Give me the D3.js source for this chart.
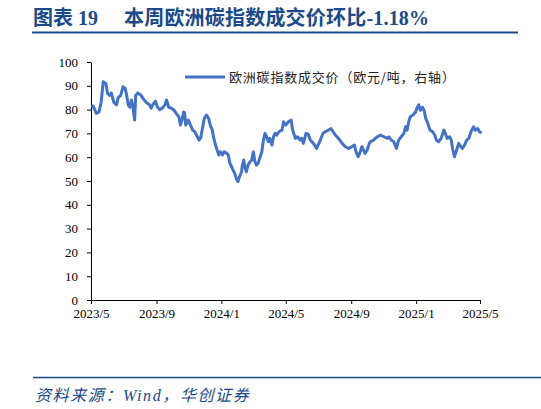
<!DOCTYPE html>
<html>
<head>
<meta charset="utf-8">
<script src="https://cdn.jsdelivr.net/npm/d3@7/dist/d3.min.js"></script>
<style>
  body { margin: 0; background: #fff; }
  svg { display: block; }
  .axis text { font-family: "Liberation Serif", "Times New Roman", serif; font-size: 13px; fill: #000; }
  .axis path, .axis line { stroke: #000; }
</style>
</head>
<body>
<div id="chart"></div>
<script>
/************************** DATA ************************/

var titleLabel = "图表 19";
var title = "本周欧洲碳指数成交价环比-1.18%";
var source = "资料来源：Wind，华创证券";
var seriesName = "欧洲碳指数成交价（欧元/吨，右轴）";

var yTicks = [0, 10, 20, 30, 40, 50, 60, 70, 80, 90, 100];
var xTicks = ["2023-05-01", "2023-09-01", "2024-01-01", "2024-05-01", "2024-09-01", "2025-01-01", "2025-05-01"];

var dates = [
  "2023-05-02","2023-05-05","2023-05-11","2023-05-16","2023-05-20","2023-05-24","2023-05-29","2023-06-01",
  "2023-06-05","2023-06-08","2023-06-13","2023-06-18","2023-06-21","2023-06-26","2023-06-30","2023-07-04",
  "2023-07-07","2023-07-10","2023-07-13","2023-07-16","2023-07-19","2023-07-22","2023-07-24","2023-07-28",
  "2023-08-03","2023-08-07","2023-08-13","2023-08-19","2023-08-22","2023-08-25","2023-08-30","2023-09-03",
  "2023-09-07","2023-09-12","2023-09-17","2023-09-20","2023-09-24","2023-09-29","2023-10-04","2023-10-08",
  "2023-10-13","2023-10-16","2023-10-19","2023-10-22","2023-10-24","2023-10-26","2023-10-31","2023-11-04",
  "2023-11-08","2023-11-12","2023-11-17","2023-11-20","2023-11-23","2023-11-27","2023-11-30","2023-12-04",
  "2023-12-08","2023-12-11","2023-12-15","2023-12-17","2023-12-21","2023-12-24","2023-12-27","2023-12-30",
  "2024-01-03","2024-01-06","2024-01-11","2024-01-14","2024-01-17","2024-01-20","2024-01-23","2024-01-26",
  "2024-01-29","2024-02-01","2024-02-04","2024-02-08","2024-02-09","2024-02-12","2024-02-14","2024-02-17",
  "2024-02-20","2024-02-24","2024-02-27","2024-03-01","2024-03-04","2024-03-07","2024-03-10","2024-03-13",
  "2024-03-17","2024-03-20","2024-03-23","2024-03-26","2024-03-29","2024-04-01","2024-04-05","2024-04-08",
  "2024-04-11","2024-04-14","2024-04-18","2024-04-24","2024-04-27","2024-05-01","2024-05-06","2024-05-11",
  "2024-05-14","2024-05-19","2024-05-23","2024-05-28","2024-05-31","2024-06-03","2024-06-08","2024-06-12",
  "2024-06-16","2024-06-22","2024-06-28","2024-07-05","2024-07-10","2024-07-14","2024-07-20","2024-07-25",
  "2024-07-29","2024-08-02","2024-08-08","2024-08-15","2024-08-21","2024-08-27","2024-09-02","2024-09-07",
  "2024-09-10","2024-09-14","2024-09-18","2024-09-21","2024-09-24","2024-09-27","2024-10-01","2024-10-05",
  "2024-10-07","2024-10-13","2024-10-20","2024-10-26","2024-11-01","2024-11-08","2024-11-11","2024-11-15",
  "2024-11-20","2024-11-25","2024-11-29","2024-12-04","2024-12-09","2024-12-12","2024-12-15","2024-12-18",
  "2024-12-21","2024-12-26","2024-12-31","2025-01-02","2025-01-06","2025-01-09","2025-01-13","2025-01-16",
  "2025-01-19","2025-01-23","2025-01-27","2025-02-01","2025-02-05","2025-02-08","2025-02-12","2025-02-17",
  "2025-02-22","2025-02-25","2025-02-28","2025-03-05","2025-03-08","2025-03-11","2025-03-14","2025-03-18",
  "2025-03-22","2025-03-26","2025-03-29","2025-04-02","2025-04-06","2025-04-10","2025-04-14","2025-04-19",
  "2025-04-22","2025-04-27","2025-04-30","2025-05-04"
];

var prices = [
  81, 81.5, 78.4, 79, 83, 91.7, 91, 86.8,
  86, 87, 83, 82, 85, 86, 89.6, 89,
  86, 82, 81, 84, 80.6, 75.6, 86, 87,
  86, 84.6, 83, 82, 80.6, 82, 83.5, 81,
  80, 80.6, 82, 84, 81, 80.6, 79.8, 78.4,
  77, 73.5, 75.6, 79, 78.6, 73.5, 75.6, 73.5,
  71.4, 70.7, 68.6, 67.2, 68, 72.8, 76.3, 77.7,
  76.3, 73.5, 71.4, 68.6, 65.1, 63, 60.9, 62.3,
  60.9, 62.3, 61.6, 60.9, 57.4, 56, 54.6, 53.2,
  51.1, 49.7, 51.8, 53.9, 56, 58.8, 56, 53.9,
  56.7, 58.1, 58.8, 62.3, 58.1, 56.7, 57.4, 59.5,
  62.3, 67.2, 70, 68.6, 66.5, 67.9, 65.1, 68.6,
  70, 69.3, 70.7, 71.4, 74.9, 73.5, 74.9, 75.6,
  71.4, 67.9, 68.6, 67.2, 67.9, 65.8, 70, 69.7,
  67.2, 65.8, 63.7, 67.2, 70, 70.7, 71.4, 72,
  70.7, 69.3, 67.9, 65.8, 64.4, 63.7, 64.4, 65.1,
  62.3, 60.2, 62.3, 64.4, 63, 61.6, 63, 65.8,
  66.5, 67.2, 68.6, 69.3, 68.6, 67.9, 68.6, 67.2,
  66.5, 63.7, 67.2, 68.6, 70, 72.8, 71.4, 74.9,
  77, 77.7, 79, 80.4, 82, 79.7, 81, 79.7,
  76.3, 74.2, 71.4, 70.7, 69.3, 67.2, 66.5, 67.9,
  71.4, 70, 67.9, 68.6, 67.2, 63, 60.2, 63,
  65.8, 64.4, 63.7, 65.1, 67.2, 67.9, 70.7, 72.8,
  71.4, 72, 70.7, 70.2
];

/************************** RENDER ************************/

var W = 541, H = 409;
var plot = { left: 91, right: 480, top: 62, bottom: 300 };
var navy = "#1a4a8a";
var lineColor = "#4472c4";

var parse = d3.timeParse("%Y-%m-%d");
var series = dates.map(function(d, i) { return { date: parse(d), value: prices[i] }; });

var svg = d3.select("#chart").append("svg")
    .attr("width", W)
    .attr("height", H);

// title + rule
var titleText = svg.append("text")
    .attr("y", 25)
    .style("font-family", "'Liberation Serif', 'Noto Sans CJK SC', serif")
    .style("font-weight", "bold")
    .style("font-size", "20px")
    .style("fill", navy);
titleText.append("tspan").attr("x", 33).text(titleLabel);
titleText.append("tspan").attr("x", 124).style("letter-spacing", "0.2px").text(title);

svg.append("line")
    .attr("x1", 32).attr("x2", 518)
    .attr("y1", 32.5).attr("y2", 32.5)
    .attr("stroke", navy)
    .attr("stroke-width", 2);

var x = d3.scaleTime()
    .domain([parse(xTicks[0]), parse(xTicks[xTicks.length - 1])])
    .range([plot.left, plot.right]);

var y = d3.scaleLinear()
    .domain([0, 100])
    .range([plot.bottom, plot.top]);

svg.append("g")
    .attr("class", "axis")
    .attr("transform", "translate(" + plot.left + ",0)")
    .call(d3.axisLeft(y).tickValues(yTicks).tickSize(4).tickPadding(9).tickSizeOuter(0));

svg.append("g")
    .attr("class", "axis")
    .attr("transform", "translate(0," + plot.bottom + ")")
    .call(d3.axisBottom(x)
      .tickValues(xTicks.map(parse))
      .tickFormat(d3.timeFormat("%Y/%-m"))
      .tickSize(4).tickPadding(5).tickSizeOuter(0));

var line = d3.line()
    .x(function(d) { return x(d.date); })
    .y(function(d) { return y(d.value); });

svg.append("path")
    .datum(series)
    .attr("fill", "none")
    .attr("stroke", lineColor)
    .attr("stroke-width", 3)
    .attr("stroke-linejoin", "round")
    .attr("d", line);

// legend
var legend = svg.append("g").attr("class", "legend");
legend.append("line")
    .attr("x1", 185).attr("x2", 225)
    .attr("y1", 77).attr("y2", 77)
    .attr("stroke", lineColor)
    .attr("stroke-width", 3);
legend.append("text")
    .attr("x", 229)
    .attr("y", 82)
    .style("font-family", "'Noto Sans CJK SC', sans-serif")
    .style("font-size", "13px")
    .style("letter-spacing", "0.8px")
    .style("fill", "#222")
    .text(seriesName);

// source
svg.append("line")
    .attr("x1", 33).attr("x2", 541)
    .attr("y1", 377.5).attr("y2", 377.5)
    .attr("stroke", navy)
    .attr("stroke-width", 1.5);

svg.append("text")
    .attr("x", 35)
    .attr("y", 401)
    .style("font-family", "'Liberation Serif', 'Noto Sans CJK SC', serif")
    .style("font-style", "italic")
    .style("font-size", "16px")
    .style("letter-spacing", "1.6px")
    .style("fill", navy)
    .text(source);
</script>
</body>
</html>
